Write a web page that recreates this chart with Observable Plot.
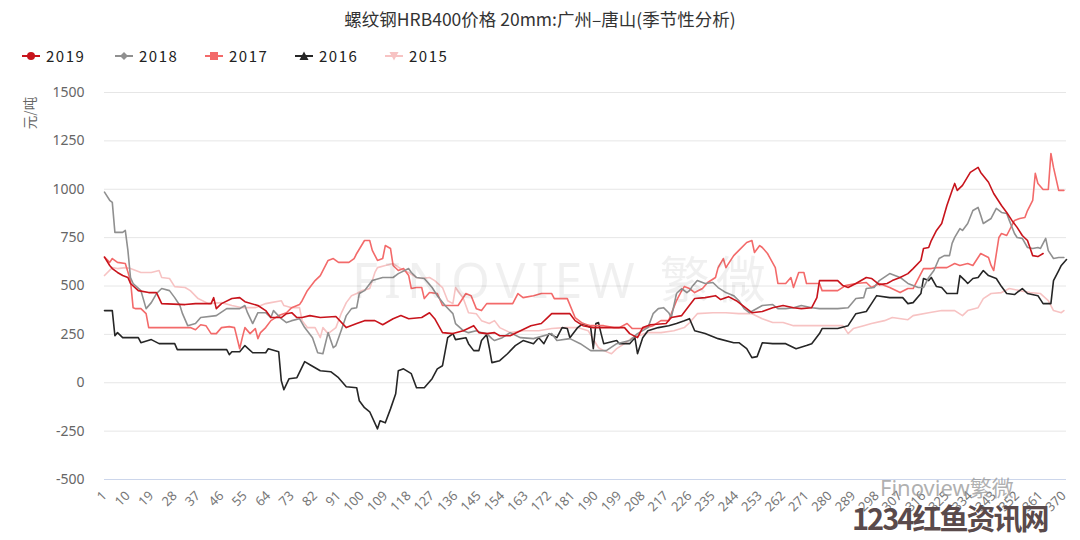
<!DOCTYPE html>
<html>
<head>
<meta charset="utf-8">
<script src="https://cdn.jsdelivr.net/npm/d3@7"></script>
<script src="https://cdn.jsdelivr.net/npm/@observablehq/plot@0.6"></script>
<style>
  body { margin: 0; background: #fff; font-family: "Noto Sans CJK SC", "Noto Sans", sans-serif; }
  #wrap { position: relative; width: 1080px; height: 540px; overflow: hidden; }
  #title { height: 36px; line-height: 38px; text-align: center; font-size: 17.5px; color: #333; }
  #legend { position: relative; height: 40px; }
  .item { position: absolute; top: 9px; display: flex; align-items: center; font-size: 15px; color: #222; letter-spacing: 1.5px; }
  .item svg { margin-right: 6px; }
  #ylab { position: absolute; left: 29px; top: 113px; transform: translate(-50%, -50%) rotate(-90deg); font-size: 13.5px; color: #666; white-space: nowrap; }
  #wm { position: absolute; left: 352px; top: 240px; font-size: 50px; letter-spacing: 6px; color: rgba(0,0,0,0.06); white-space: nowrap; font-family: "Noto Sans", "Noto Sans CJK SC", sans-serif; }
  #wm2 { position: absolute; left: 880px; top: 476px; font-size: 22px; line-height: 1; color: rgba(150,150,150,0.75); white-space: nowrap; font-family: "Noto Sans", "Noto Sans CJK SC", sans-serif; }
  #wm3 { position: absolute; left: 852px; top: 502px; font-size: 29px; line-height: 1.1; font-weight: bold; letter-spacing: -2px; color: #5a4a4b; white-space: nowrap; }
</style>
</head>
<body>
<div id="wrap">
  <div id="title">螺纹钢HRB400价格 20mm:广州–唐山(季节性分析)</div>
  <div id="legend"></div>
  <div id="chart"></div>
  <div id="ylab">元/吨</div>
  <div id="wm">FINOVIEW 繁微</div>
  <div id="wm2">Finoview繁微</div>
  <div id="wm3">1234红鱼资讯网</div>
</div>
<script>
const years = ["2019", "2018", "2017", "2016", "2015"];
const colors = ["#c8141c", "#909090", "#f36a6a", "#262626", "#f7c3c3"];
const markers = ["circle", "diamond", "square", "triangle", "triangleDown"];
const legendLeft = [22, 115, 205, 295, 385];

const days2019 = [1,3,4,6,8,10,11,14,18,21,23,32,36,42,43,44,46,50,53,55,60,63,65,69,71,73,75,77,80,84,90,94,98,101,105,108,112,115,118,123,126,128,131,135,139,143,145,148,151,153,157,161,165,169,171,173,180,182,185,189,201,203,206,208,211,217,219,223,226,228,232,236,238,241,244,248,250,254,258,262,266,269,273,275,276,283,285,287,290,294,296,299,302,304,307,310,312,315,316,318,319,321,323,325,327,328,329,331,334,337,338,341,343,346,348,350,352,354,356,358,360,362];
const vals2019 = [649,606,590,570,554,544,513,476,466,466,409,404,409,409,440,383,409,435,440,419,399,373,337,337,357,362,337,337,347,337,342,285,306,321,321,300,331,347,331,337,362,331,259,254,269,295,259,254,259,243,243,269,295,306,331,357,357,321,295,285,285,254,233,285,300,306,337,347,400,435,440,450,430,445,424,383,362,368,388,399,388,383,388,440,528,528,502,492,513,544,539,507,513,528,544,564,590,632,694,699,735,787,823,916,994,1030,994,1020,1087,1113,1087,1036,978,916,880,839,803,761,735,657,652,668];

const days2018 = [1,3,4,5,8,9,10,11,12,15,17,19,21,23,26,28,30,31,33,36,38,44,48,53,55,56,58,60,63,65,66,69,71,73,76,78,81,83,85,87,89,90,92,94,96,98,99,101,104,108,112,114,118,119,121,124,127,129,132,135,136,139,141,144,146,148,150,151,154,157,161,166,173,175,180,184,188,194,198,203,206,210,212,214,216,218,219,221,223,225,226,227,229,232,235,237,240,243,245,247,249,254,258,260,263,266,269,273,276,283,287,290,293,294,297,299,303,307,310,314,316,318,320,322,324,326,327,328,330,331,333,335,337,338,339,342,344,346,348,349,351,352,354,356,358,360,361,363,364,366,368,370];
const vals2018 = [985,943,932,777,777,787,684,544,513,476,383,414,461,487,476,440,399,357,295,306,337,347,383,383,399,362,306,362,362,337,373,331,311,321,331,285,233,155,150,259,181,192,269,347,383,388,461,476,528,544,544,564,590,570,544,539,492,450,399,357,306,269,259,269,259,254,228,218,233,259,233,228,254,218,228,202,166,166,202,218,254,285,357,383,388,362,337,461,487,466,476,497,528,513,518,492,466,450,424,383,362,399,404,383,383,388,399,388,383,383,388,435,440,487,492,528,564,544,513,492,492,544,580,642,657,657,720,751,797,787,823,890,906,865,823,849,901,880,875,839,771,751,746,699,694,699,694,746,683,642,647,647];

const days2017 = [1,3,4,6,9,11,12,13,15,17,18,24,34,36,38,40,42,44,46,49,51,53,54,55,57,59,60,61,63,65,68,71,73,76,77,79,82,84,87,89,91,95,97,98,101,103,104,106,108,109,111,112,114,116,118,119,121,123,124,126,129,131,137,140,142,144,146,148,158,160,162,166,169,173,174,179,182,185,188,193,197,199,202,204,208,212,215,218,219,221,223,224,226,228,231,233,236,237,239,240,243,245,248,250,251,253,254,256,259,260,263,265,266,268,270,271,276,277,283,286,290,294,296,299,303,307,310,312,316,319,321,325,328,330,333,335,337,338,341,342,343,345,346,348,350,351,353,355,356,358,359,360,362,364,365,366,368,370];
const vals2017 = [649,622,642,622,616,528,388,383,383,357,285,285,285,274,300,295,254,254,285,290,285,176,233,285,254,280,228,259,285,321,347,362,388,404,424,476,528,554,632,642,622,622,642,668,735,735,684,632,642,709,694,606,580,590,554,487,492,492,435,466,461,399,399,461,450,383,373,409,409,461,440,450,461,461,435,435,337,306,295,295,285,285,306,280,280,295,321,321,357,424,476,497,487,466,487,518,544,595,642,595,657,684,725,735,673,709,699,668,595,513,513,544,492,570,570,513,513,476,476,502,513,518,492,513,492,466,487,487,590,590,595,595,616,606,616,606,647,668,647,606,580,751,771,761,813,839,849,854,890,942,1082,1030,999,999,1185,1113,994,994];

const days2016 = [1,4,5,6,8,14,15,19,22,28,29,48,49,50,53,55,58,63,64,68,69,70,72,75,78,80,84,88,91,94,98,99,101,103,106,107,109,111,113,114,116,119,121,124,127,129,131,133,135,136,140,141,143,145,146,148,149,150,153,156,159,162,166,168,170,172,175,177,179,180,183,185,188,189,190,191,192,193,198,199,203,205,206,208,210,214,218,221,224,226,228,232,237,243,245,248,250,252,254,258,263,267,271,273,276,277,283,287,290,294,296,298,303,308,310,312,315,316,318,319,321,323,325,329,330,332,333,335,337,339,341,343,344,346,348,351,354,356,360,362,365,366,368,369,371];
const vals2016 = [373,373,243,259,233,233,207,223,202,202,171,171,145,160,160,192,155,155,176,160,10,-36,21,26,109,93,62,57,26,-21,-26,-93,-129,-150,-238,-197,-207,-135,-57,62,72,47,-26,-26,21,72,88,233,254,223,233,202,166,166,218,249,181,104,114,150,192,218,202,233,202,254,233,285,280,233,285,306,285,176,306,311,254,202,218,202,202,233,150,233,269,285,295,306,320,331,269,254,228,207,207,176,130,135,207,202,202,176,192,202,254,280,280,295,357,368,409,450,440,440,409,414,461,539,528,544,497,492,461,461,554,528,513,539,544,580,554,544,539,497,461,456,487,461,450,409,409,528,580,606,637];

const days2015 = [1,4,6,9,11,13,15,19,22,23,26,28,32,34,37,41,46,50,54,59,63,65,69,70,73,76,77,79,82,84,85,87,90,92,94,96,98,100,103,105,106,109,112,116,118,121,123,126,128,131,133,135,136,139,141,144,146,149,151,153,157,162,168,173,178,183,187,191,193,196,198,201,204,210,215,220,224,226,229,235,240,245,250,254,258,262,266,271,276,281,285,287,289,293,296,301,304,310,312,318,323,328,331,333,337,339,342,346,349,353,357,361,364,366,369,370];
const vals2015 = [554,595,590,595,590,580,570,570,580,544,539,497,492,476,435,409,414,399,388,388,409,414,424,399,388,388,321,285,285,233,285,254,285,357,414,450,461,476,487,570,595,606,616,580,570,544,539,544,528,492,424,409,492,435,362,357,321,306,321,285,259,269,269,280,285,285,269,181,166,150,176,202,233,259,259,269,285,310,357,362,362,357,357,331,311,311,295,295,295,295,295,254,280,295,306,321,337,326,347,362,373,373,347,373,388,435,461,466,487,476,466,461,424,373,362,373];

const xTicks = d3.range(1, 371, 9);
const yTicks = d3.range(-500, 1501, 250);

const seriesDays = [days2019, days2018, days2017, days2016, days2015];
const seriesVals = [vals2019, vals2018, vals2017, vals2016, vals2015];
const series = years.map((y, i) => seriesDays[i].map((d, j) => ({year: y, day: d, value: seriesVals[i][j]})));

// legend
const legend = document.getElementById("legend");
years.forEach((y, i) => {
  const it = document.createElement("div");
  it.className = "item";
  it.style.left = legendLeft[i] + "px";
  const c = colors[i];
  let m = "";
  if (markers[i] === "circle") m = `<circle cx="9" cy="8" r="4" fill="${c}"/>`;
  if (markers[i] === "diamond") m = `<path d="M9 4 L13 8 L9 12 L5 8Z" fill="${c}"/>`;
  if (markers[i] === "square") m = `<rect x="5" y="4" width="8" height="8" fill="${c}"/>`;
  if (markers[i] === "triangle") m = `<path d="M9 3.5 L13.5 12 L4.5 12Z" fill="${c}"/>`;
  if (markers[i] === "triangleDown") m = `<path d="M4.5 4 L13.5 4 L9 12.5Z" fill="${c}"/>`;
  it.innerHTML = `<svg width="18" height="16"><line x1="0" x2="18" y1="8" y2="8" stroke="${c}" stroke-width="2"/>${m}</svg><span>${y}</span>`;
  legend.appendChild(it);
});

const marks = [
  Plot.gridY(yTicks, {stroke: "#e6e6e6", strokeOpacity: 1}),
  Plot.ruleY([-500], {stroke: "#ccd6eb"}),
  Plot.axisY(yTicks, {tickSize: 0, tickPadding: 20, fontSize: 14, fill: "#666", label: null, tickFormat: d => String(d)}),
  Plot.axisX(xTicks, {tickSize: 0, tickRotate: -45, tickPadding: 14, fontSize: 13, fill: "#777", label: null})
];
[4, 3, 2, 1, 0].forEach(i => {
  marks.push(Plot.line(series[i], {x: "day", y: "value", stroke: colors[i], strokeWidth: 1.6}));
});

const chart = Plot.plot({
  width: 1080,
  height: 464,
  marginTop: 16,
  marginBottom: 61,
  marginLeft: 104,
  marginRight: 14,
  style: {fontFamily: "'Noto Sans', 'Noto Sans CJK SC', sans-serif", background: "#fff"},
  x: {type: "linear", domain: [1, 371]},
  y: {domain: [-500, 1500]},
  marks
});
document.getElementById("chart").appendChild(chart);
</script>
</body>
</html>
